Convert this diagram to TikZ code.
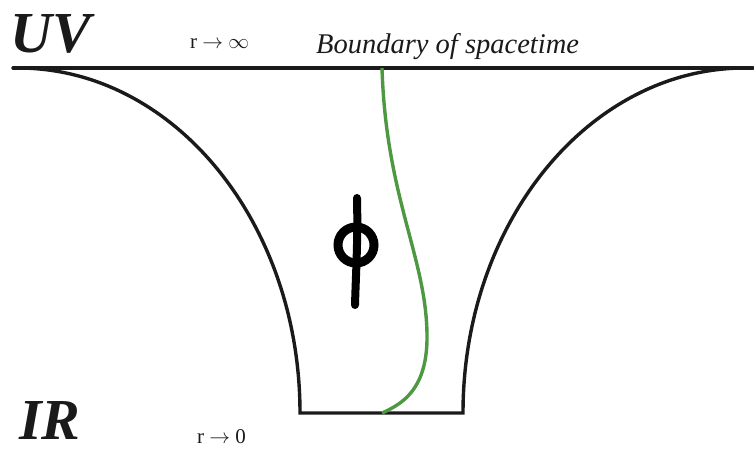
\documentclass[tikz,border=0pt]{standalone}
\usepackage{fontspec}
\setmainfont{Liberation Serif}
\begin{document}
\begin{tikzpicture}[x=1pt,y=-1pt]
\useasboundingbox (0,0) rectangle (754,451);
\definecolor{fieldgreen}{RGB}{78,152,66}
\definecolor{ink}{RGB}{26,26,26}
\tikzset{
  wall/.style={line width=3.4pt, draw=ink},
  lbl/.style={inner sep=0pt, anchor=base west, text=ink},
  big/.style={lbl, text depth=0pt, font=\fontsize{58}{60}\selectfont\bfseries\itshape},
  small/.style={lbl, text depth=0pt, font=\fontsize{21}{23}\selectfont},
}
% boundary
\coordinate (tl) at (13,68);
\coordinate (tr) at (753,68);
\draw[wall, line cap=round] (tl) -- (tr);
% throat
\coordinate (lt) at (18,68);
\coordinate (lb) at (300,413);
\coordinate (rb) at (463,413);
\coordinate (rt) at (745,68);
\draw[wall, line join=miter] (lt) .. controls (173.7,68) and (300,222.5) .. (lb)
  -- (rb) .. controls (463,222.5) and (589.3,68) .. (rt);
% field profile
\coordinate (gtop) at (382,68);
\coordinate (gmid) at (427,340);
\coordinate (gbot) at (382,413);
\draw[line width=3.4pt, draw=fieldgreen] (gtop) .. controls (386,200) and (428,260) .. (gmid)
  .. controls (426,390) and (402,404) .. (gbot);
% phi
\coordinate (phic) at (356,245);
\draw[line width=9pt, draw=black] (phic) circle[radius=18pt];
\coordinate (phit) at (357,198);
\coordinate (phib) at (355,305);
\draw[line width=8pt, line cap=round, draw=black] (phit) .. controls (358,240) and (356,270) .. (phib);
% labels
\node[big] (uv) at (10,52) {UV};
\node[big] (ir) at (19,439) {IR};
\node[small] (rinf) at (190,48) {r $\rightarrow$ $\infty$};
\node[small] (rzero) at (197,443) {r $\rightarrow$ 0};
\node[lbl, font=\fontsize{28.5}{30}\selectfont\itshape] (bnd) at (316,53) {Boundary of spacetime};
\end{tikzpicture}
\end{document}
